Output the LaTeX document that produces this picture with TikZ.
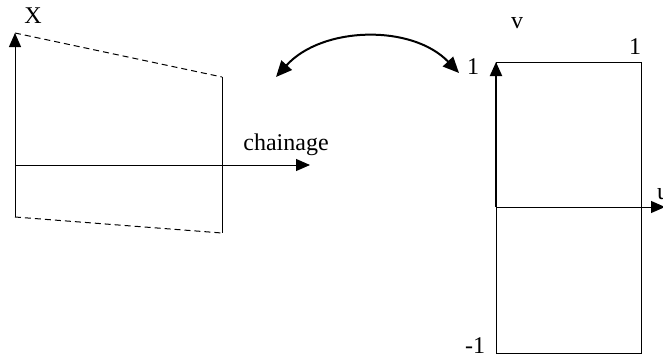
\documentclass[tikz,border=0pt]{standalone}
\usepackage{fontspec}
\setmainfont{Liberation Serif}
\usetikzlibrary{arrows.meta}
\begin{document}
\begin{tikzpicture}[x=0.5pt,y=-0.5pt,
  thin line/.style={line width=0.5pt},
  tip/.style={-{Triangle[length=7pt,width=6pt]}},
  dashline/.style={line width=0.5pt,dash pattern=on 3pt off 2pt},
  lbl/.style={font=\fontsize{12}{14}\selectfont,inner sep=0pt}]
\useasboundingbox (0,0) rectangle (663,359);
% left figure
\coordinate (O) at (15,165);
\coordinate (Xtop) at (15,33);
\coordinate (Xbot) at (15,217);
\coordinate (Ctip) at (310,165);
\coordinate (Rtop) at (222,77);
\coordinate (Rbot) at (222,233);
\draw[thin line,tip] (Xbot) -- (Xtop);
\draw[thin line,tip] (O) -- (Ctip);
\draw[thin line] (Rtop) -- (Rbot);
\draw[dashline] (Xtop) -- (Rtop);
\draw[dashline] (Xbot) -- (Rbot);
\node[lbl] (X) at (33,16) {X};
\node[lbl,anchor=base west] (ch) at (243,150) {chainage};
% arc
\coordinate (A1) at (276,77);
\coordinate (A2) at (459,73);
\draw[line width=1pt,{Triangle[length=8pt,width=7pt]}-{Triangle[length=8pt,width=7pt]}] (A1) .. controls (322,26) and (412,24) .. (A2);
% right figure
\coordinate (B1) at (496,62);
\coordinate (B2) at (641,353);
\coordinate (UO) at (496,207);
\coordinate (Utip) at (665,207);
\draw[thin line] (B1) rectangle (B2);
\draw[thin line,tip] (UO) -- (Utip);
\draw[line width=1pt,tip] (UO) -- (B1);
\node[lbl] (v) at (517,23) {v};
\node[lbl] (one1) at (473,67) {1};
\node[lbl] (one2) at (635,47) {1};
\node[lbl] (m1) at (475,346) {-1};
\node[lbl] (u) at (663,194) {u};
\end{tikzpicture}
\end{document}
